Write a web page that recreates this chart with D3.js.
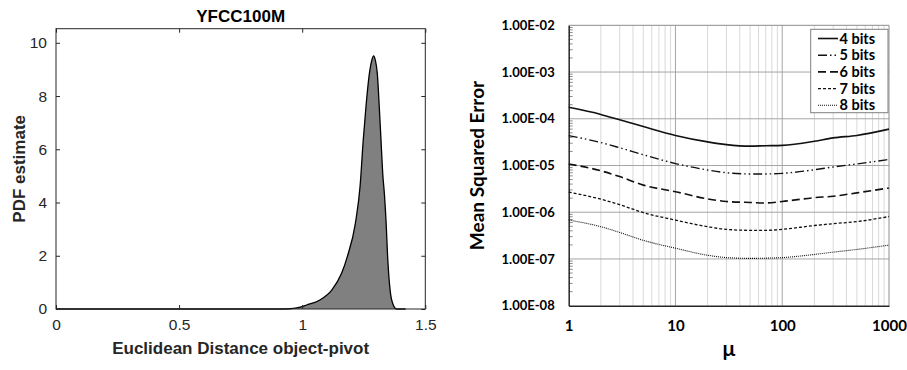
<!DOCTYPE html>
<html>
<head>
<meta charset="utf-8">
<script src="https://cdn.jsdelivr.net/npm/d3@7"></script>
<style>
  html, body { margin: 0; padding: 0; background: #fff; }
  svg { display: block; }
</style>
</head>
<body>
<svg id="chart" width="907" height="370"></svg>
<script>
// ---- Left panel: PDF of object-pivot distances ----
const distX = [0, 0.9, 0.95, 0.978, 1.018, 1.072, 1.12, 1.16, 1.183, 1.216, 1.235, 1.248, 1.259, 1.273, 1.283, 1.290, 1.297, 1.305, 1.313, 1.320, 1.327, 1.334, 1.341, 1.347, 1.357, 1.368, 1.384, 1.42];
const pdfVal = [0, 0, 0.01, 0.04, 0.15, 0.34, 0.71, 1.34, 1.96, 3.22, 4.6, 6.35, 7.6, 8.85, 9.35, 9.51, 9.35, 8.85, 7.6, 6.35, 5.1, 4.3, 3.22, 1.96, 0.71, 0.2, 0, 0];
const pdfXTicks = [0, 0.5, 1, 1.5];
const pdfYTicks = [0, 2, 4, 6, 8, 10];

// ---- Right panel: MSE versus mu ----
const muValues = [1, 2, 3, 5, 10, 20, 30, 50, 70, 100, 200, 300, 500, 1000];
const mse4 = [1.76e-4, 1.24e-4, 9.5e-5, 6.8e-5, 4.4e-5, 3.2e-5, 2.8e-5, 2.6e-5, 2.65e-5, 2.7e-5, 3.3e-5, 3.9e-5, 4.4e-5, 6.0e-5];
const mse5 = [4.35e-5, 3.1e-5, 2.4e-5, 1.7e-5, 1.1e-5, 8.0e-6, 7.0e-6, 6.6e-6, 6.6e-6, 6.8e-6, 8.1e-6, 9.3e-6, 1.08e-5, 1.35e-5];
const mse6 = [1.08e-5, 7.7e-6, 5.8e-6, 3.8e-6, 2.75e-6, 1.93e-6, 1.7e-6, 1.62e-6, 1.58e-6, 1.7e-6, 2.05e-6, 2.2e-6, 2.6e-6, 3.3e-6];
const mse7 = [2.7e-6, 1.9e-6, 1.45e-6, 9.8e-7, 6.8e-7, 4.9e-7, 4.3e-7, 4.1e-7, 4.1e-7, 4.3e-7, 5.2e-7, 5.7e-7, 6.3e-7, 8.1e-7];
const mse8 = [6.8e-7, 4.9e-7, 3.7e-7, 2.5e-7, 1.7e-7, 1.2e-7, 1.07e-7, 1.03e-7, 1.04e-7, 1.07e-7, 1.25e-7, 1.4e-7, 1.6e-7, 1.98e-7];
const seriesNames = ["4 bits", "5 bits", "6 bits", "7 bits", "8 bits"];
const mseYTicks = [1e-8, 1e-7, 1e-6, 1e-5, 1e-4, 1e-3, 1e-2];
const mseYLabels = ["1.00E-08", "1.00E-07", "1.00E-06", "1.00E-05", "1.00E-04", "1.00E-03", "1.00E-02"];
const muTicks = [1, 10, 100, 1000];

const svg = d3.select("#chart");
svg.append("rect").attr("width", 907).attr("height", 370).attr("fill", "#fff");

// ================= Left panel =================
(function () {
  const L = 56, R = 425.3, T = 28.7, B = 309;
  const ink = "#262626";
  const font = "'Liberation Sans', Arial, Helvetica, sans-serif";
  const x = d3.scaleLinear().domain([0, 1.5]).range([L, R]);
  const y = d3.scaleLinear().domain([0, 10.53]).range([B, T]);
  const g = svg.append("g");

  const pts = distX.map((d, i) => [d, pdfVal[i]]);
  g.append("path")
    .datum(pts)
    .attr("fill", "#808080")
    .attr("d", d3.area().x(d => x(d[0])).y0(y(0)).y1(d => y(d[1])).curve(d3.curveMonotoneX));
  g.append("path")
    .datum(pts)
    .attr("fill", "none")
    .attr("stroke", "#000")
    .attr("stroke-width", 1.3)
    .attr("d", d3.line().x(d => x(d[0])).y(d => y(d[1])).curve(d3.curveMonotoneX));

  // box
  g.append("rect").attr("x", L).attr("y", T).attr("width", R - L).attr("height", B - T)
    .attr("fill", "none").attr("stroke", ink).attr("stroke-width", 1);

  // axes with inward ticks on all four sides
  const bottom = g.append("g").attr("transform", `translate(0,${B})`)
    .call(d3.axisBottom(x).tickValues(pdfXTicks).tickSizeInner(-4).tickSizeOuter(0).tickPadding(10).tickFormat(d3.format("")));
  const top = g.append("g").attr("transform", `translate(0,${T})`)
    .call(d3.axisTop(x).tickValues(pdfXTicks).tickSizeInner(-4).tickSizeOuter(0).tickFormat(""));
  const left = g.append("g").attr("transform", `translate(${L},0)`)
    .call(d3.axisLeft(y).tickValues(pdfYTicks).tickSizeInner(-4).tickSizeOuter(0).tickPadding(9));
  const right = g.append("g").attr("transform", `translate(${R},0)`)
    .call(d3.axisRight(y).tickValues(pdfYTicks).tickSizeInner(-4).tickSizeOuter(0).tickFormat(""));
  [bottom, top, left, right].forEach(a => {
    a.select(".domain").remove();
    a.selectAll("line").attr("stroke", ink);
    a.selectAll("text").attr("fill", ink).style("font-family", font).style("font-size", "15.5px");
  });

  g.append("text").attr("x", (L + R) / 2).attr("y", 22).attr("text-anchor", "middle")
    .style("font-family", font).style("font-size", "17px").style("font-weight", "bold")
    .attr("fill", "#000").text("YFCC100M");
  g.append("text").attr("x", (L + R) / 2).attr("y", 354).attr("text-anchor", "middle")
    .style("font-family", font).style("font-size", "17px").style("font-weight", "bold")
    .attr("fill", ink).text("Euclidean Distance object-pivot");
  g.append("text").attr("transform", `translate(25,${(T + B) / 2}) rotate(-90)`).attr("text-anchor", "middle")
    .style("font-family", font).style("font-size", "17px").style("font-weight", "bold")
    .attr("fill", ink).text("PDF estimate");
})();

// ================= Right panel =================
(function () {
  const L = 568.7, R = 889, T = 25.3, B = 305.7;
  const font = "Lato, 'Open Sans', sans-serif";
  const x = d3.scaleLog().domain([1, 1000]).range([L, R]);
  const y = d3.scaleLog().domain([1e-8, 1e-2]).range([B, T]);
  const g = svg.append("g");

  // minor vertical grid
  const minorX = [];
  for (let dec = 1; dec < 1000; dec *= 10) for (let k = 2; k <= 9; k++) minorX.push(dec * k);
  g.append("g").selectAll("line").data(minorX).join("line")
    .attr("x1", d => x(d)).attr("x2", d => x(d)).attr("y1", T).attr("y2", B)
    .attr("stroke", "#d9d9d9").attr("stroke-width", 1);
  // major grid
  g.append("g").selectAll("line").data(muTicks.slice(1, -1)).join("line")
    .attr("x1", d => x(d)).attr("x2", d => x(d)).attr("y1", T).attr("y2", B)
    .attr("stroke", "#a6a6a6").attr("stroke-width", 1);
  g.append("g").selectAll("line").data(mseYTicks.slice(1, -1)).join("line")
    .attr("x1", L).attr("x2", R).attr("y1", d => y(d)).attr("y2", d => y(d))
    .attr("stroke", "#a6a6a6").attr("stroke-width", 1);

  // frame
  g.append("line").attr("x1", L).attr("x2", R).attr("y1", T).attr("y2", T).attr("stroke", "#8c8c8c");
  g.append("line").attr("x1", R).attr("x2", R).attr("y1", T).attr("y2", B).attr("stroke", "#8c8c8c");

  // minor ticks on y axis
  const minorY = [];
  for (let dec = 1e-8; dec < 1e-2 * 0.99; dec *= 10) for (let k = 2; k <= 9; k++) minorY.push(dec * k);
  g.append("g").selectAll("line").data(minorY).join("line")
    .attr("x1", L).attr("x2", L + 4).attr("y1", d => y(d)).attr("y2", d => y(d))
    .attr("stroke", "#8c8c8c").attr("stroke-width", 1);

  // axes
  const ax = g.append("g").attr("transform", `translate(0,${B})`)
    .call(d3.axisBottom(x).tickValues(muTicks).tickSize(0).tickPadding(15).tickFormat(d3.format("d")));
  ax.select(".domain").attr("stroke", "#262626").attr("stroke-width", 1.5);
  ax.selectAll("text").attr("fill", "#000").style("font-family", font)
    .style("font-size", "15px").style("font-weight", "bold");

  const ay = g.append("g").attr("transform", `translate(${L},0)`)
    .call(d3.axisLeft(y).tickValues(mseYTicks).tickSize(0).tickPadding(14).tickFormat((d, i) => mseYLabels[i]));
  ay.select(".domain").attr("stroke", "#262626").attr("stroke-width", 1.5);
  ay.selectAll("text").attr("fill", "#000").style("font-family", font)
    .style("font-size", "13px").style("font-weight", "bold");

  // series
  const allSeries = [mse4, mse5, mse6, mse7, mse8];
  const dashes = [null, "9,3,1.5,3,1.5,3", "8,4", "3,2", "1,1"];
  const widths = [1.6, 1.4, 1.6, 1.3, 1.1];
  const line = d3.line().x(d => x(d[0])).y(d => y(d[1])).curve(d3.curveMonotoneX);
  allSeries.forEach((s, i) => {
    g.append("path")
      .datum(muValues.map((m, j) => [m, s[j]]))
      .attr("fill", "none").attr("stroke", "#111")
      .attr("stroke-width", widths[i])
      .attr("stroke-dasharray", dashes[i])
      .attr("d", line);
  });

  // legend
  const lg = g.append("g");
  lg.append("rect").attr("x", 810.7).attr("y", 29.3).attr("width", 77.3).attr("height", 83.4)
    .attr("fill", "#fff").attr("stroke", "#7f7f7f").attr("stroke-width", 1);
  seriesNames.forEach((name, i) => {
    const yy = 38.5 + i * 16.7;
    lg.append("line").attr("x1", 818).attr("x2", 838).attr("y1", yy).attr("y2", yy)
      .attr("stroke", "#111").attr("stroke-width", widths[i]).attr("stroke-dasharray", dashes[i]);
    lg.append("text").attr("x", 839.5).attr("y", yy).attr("dy", "0.35em")
      .style("font-family", font).style("font-size", "14.5px").style("font-weight", "bold")
      .attr("fill", "#000").text(name);
  });

  g.append("text").attr("x", (L + R) / 2).attr("y", 356).attr("text-anchor", "middle")
    .style("font-family", font).style("font-size", "21px").style("font-weight", "bold")
    .attr("fill", "#000").text("μ");
  g.append("text").attr("transform", `translate(484,${(T + B) / 2}) rotate(-90)`).attr("text-anchor", "middle")
    .style("font-family", font).style("font-size", "19px").style("font-weight", "bold")
    .attr("fill", "#000").text("Mean Squared Error");
})();
</script>
</body>
</html>
